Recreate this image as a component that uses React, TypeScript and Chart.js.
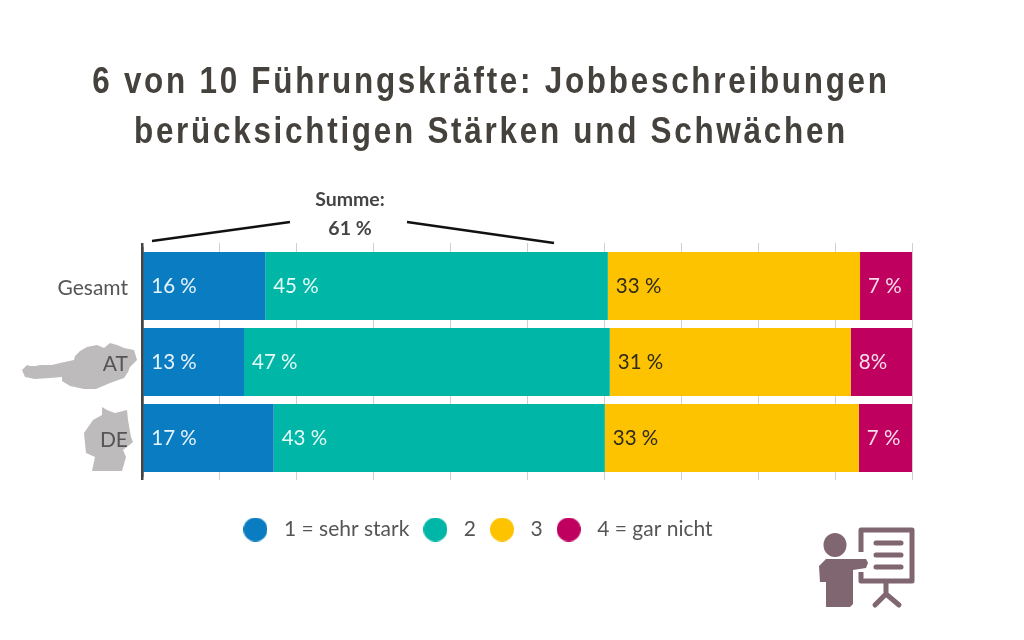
import React, { useEffect, useRef } from "react";
import { Chart, registerables } from "chart.js";

Chart.register(...registerables);

const categories = ["Gesamt", "AT", "DE"];
const seriesNames = ["1 = sehr stark", "2", "3", "4 = gar nicht"];
const seriesColors = ["#0a7cc1", "#00b6a6", "#fdc300", "#c0005f"];
const labelColors = ["#e8f4fb", "#e6faf7", "#2f2a1c", "#f7dce9"];
const values1 = [16, 13.25, 17.1];
const values2 = [44.5, 47.5, 43];
const values3 = [32.75, 31.3, 33];
const values4 = [6.75, 7.95, 6.9];
const labels1 = ["16 %", "13 %", "17 %"];
const labels2 = ["45 %", "47 %", "43 %"];
const labels3 = ["33 %", "31 %", "33 %"];
const labels4 = ["7 %", "8%", "7 %"];
const allValues = [values1, values2, values3, values4];
const allLabels = [labels1, labels2, labels3, labels4];
const titleLines = ["6 von 10 Führungskräfte: Jobbeschreibungen", "berücksichtigen Stärken und Schwächen"];
const sumLines = ["Summe:", "61 %"];

const BODY_FONT = "Lato, 'Open Sans', sans-serif";
const TEXT = "#555555";

const austria = [[22,370],[27,365],[30,366],[36,366],[40,365],[52,365],[60,363],[74,360],[75,356],[80,351],[87,347],[97,345],[104,348],[110,343],[117,345],[124,348],[134,350],[137,360],[130,367],[128,372],[124,378],[110,383],[96,389],[84,389],[70,386],[62,381],[62,377],[50,378],[35,379],[25,377]];
const germany = [[102,407],[107,410],[115,413],[127,410],[128,420],[131,437],[133,442],[123,450],[126,457],[122,471],[92,471],[95,457],[86,453],[84,433],[93,420],[102,415]];

function makeDot(color: string) {
  const c = document.createElement("canvas");
  c.width = 24;
  c.height = 24;
  const g = c.getContext("2d")!;
  g.fillStyle = color;
  g.beginPath();
  g.arc(12, 12, 12, 0, Math.PI * 2);
  g.fill();
  return c;
}

function poly(ctx: CanvasRenderingContext2D, pts: number[][], color: string) {
  ctx.fillStyle = color;
  ctx.lineJoin = "round";
  ctx.beginPath();
  pts.forEach((p, i) => (i ? ctx.lineTo(p[0], p[1]) : ctx.moveTo(p[0], p[1])));
  ctx.closePath();
  ctx.fill();
}

const backdrop = {
  id: "backdrop",
  beforeDraw(chart: any) {
    const ctx = chart.ctx as CanvasRenderingContext2D;
    ctx.save();
    poly(ctx, austria, "#bdbbbc");
    poly(ctx, germany, "#bdbbbc");
    ctx.restore();
  },
};

const shiftLegend = {
  id: "shiftLegend",
  afterLayout(chart: any) {
    chart.legend.left += 19;
    chart.legend.right += 19;
  },
};

const overlay = {
  id: "overlay",
  afterDatasetsDraw(chart: any) {
    const ctx = chart.ctx as CanvasRenderingContext2D;
    ctx.save();
    ctx.textBaseline = "middle";
    ctx.font = `20.5px ${BODY_FONT}`;
    chart.data.datasets.forEach((_: any, di: number) => {
      const meta = chart.getDatasetMeta(di);
      meta.data.forEach((bar: any, i: number) => {
        ctx.fillStyle = labelColors[di];
        ctx.textAlign = "left";
        ctx.fillText(allLabels[di][i], bar.base + 8, bar.y);
      });
    });
    ctx.restore();
  },
  afterDraw(chart: any) {
    const ctx = chart.ctx as any;
    ctx.save();
    // title
    ctx.fillStyle = "#45423d";
    ctx.textAlign = "center";
    ctx.textBaseline = "middle";
    ctx.font = "bold 37px 'Liberation Sans', sans-serif";
    ctx.letterSpacing = "3.2px";
    ctx.save();
    ctx.translate(491, 0);
    ctx.scale(0.85, 1);
    ctx.fillText(titleLines[0], 0, 83);
    ctx.fillText(titleLines[1], 0, 133);
    ctx.restore();
    ctx.letterSpacing = "0px";
    // sum bracket
    ctx.fillStyle = "#444444";
    ctx.font = `bold 19.5px ${BODY_FONT}`;
    ctx.fillText(sumLines[0], 350, 200);
    ctx.fillText(sumLines[1], 350, 229);
    ctx.strokeStyle = "#111111";
    ctx.lineWidth = 2.5;
    ctx.beginPath();
    ctx.moveTo(152, 241);
    ctx.lineTo(290, 222);
    ctx.moveTo(407, 222);
    ctx.lineTo(554, 243);
    ctx.stroke();
    // presenter icon
    const c = "#7f6670";
    ctx.fillStyle = c;
    ctx.strokeStyle = c;
    ctx.beginPath();
    ctx.ellipse(835, 545, 11.5, 12, 0, 0, Math.PI * 2);
    ctx.fill();
    poly(ctx, [[826,559],[866,559],[868,563],[866,568],[853,570],[853,604],[850,607],[826,607],[826,582],[820,582],[819,566]], c);
    ctx.lineWidth = 5;
    ctx.lineCap = "butt";
    ctx.beginPath();
    ctx.moveTo(861, 552);
    ctx.lineTo(861, 530);
    ctx.lineTo(912, 530);
    ctx.lineTo(912, 581);
    ctx.lineTo(861, 581);
    ctx.lineTo(861, 572);
    ctx.stroke();
    ctx.lineCap = "round";
    ctx.beginPath();
    [543, 555, 567].forEach((y) => {
      ctx.moveTo(876, y);
      ctx.lineTo(901, y);
    });
    ctx.moveTo(886, 582);
    ctx.lineTo(886, 594);
    ctx.lineTo(875, 605);
    ctx.moveTo(886, 594);
    ctx.lineTo(899, 605);
    ctx.stroke();
    ctx.restore();
  },
};

export default function App() {
  const ref = useRef<HTMLCanvasElement>(null);
  useEffect(() => {
    const chart = new Chart(ref.current!, {
      type: "bar",
      data: {
        labels: categories,
        datasets: seriesNames.map((name, i) => ({
          label: name,
          data: allValues[i],
          backgroundColor: seriesColors[i],
          barPercentage: 68 / 76,
          categoryPercentage: 1,
          xAxisID: "x",
          yAxisID: "y",
        })),
      },
      options: {
        indexAxis: "y",
        responsive: false,
        animation: false,
        layout: { padding: { top: 243, right: 112, bottom: 90, left: 0 } },
        plugins: {
          title: { display: false },
          tooltip: { enabled: false },
          legend: {
            position: "bottom",
            labels: {
              usePointStyle: true,
              pointStyleWidth: 36,
              padding: 8,
              color: TEXT,
              font: { size: 21, family: BODY_FONT },
              generateLabels: (c: any) =>
                c.data.datasets.map((d: any, i: number) => ({
                  text: d.label,
                  fillStyle: d.backgroundColor,
                  strokeStyle: d.backgroundColor,
                  fontColor: TEXT,
                  pointStyle: makeDot(seriesColors[i]),
                  lineWidth: 0,
                  datasetIndex: i,
                })),
            },
          },
        },
        scales: {
          x: {
            stacked: true,
            min: 0,
            max: 100,
            position: "bottom",
            afterFit: (s: any) => { s.height = 35; },
            ticks: { display: false, stepSize: 10 },
            border: { display: false },
            grid: {
              color: (c: any) => (c.tick && c.tick.value === 0 ? "#444444" : "#cfcfcf"),
              lineWidth: (c: any) => (c.tick && c.tick.value === 0 ? 2.5 : 1),
              tickLength: 4,
            },
          },
          xTop: {
            type: "linear",
            axis: "x",
            min: 0,
            max: 100,
            position: "top",
            afterFit: (s: any) => { s.height = 5; },
            ticks: { display: false, stepSize: 10 },
            border: { display: false },
            grid: {
              drawOnChartArea: false,
              color: (c: any) => (c.tick && c.tick.value === 0 ? "#444444" : "#cfcfcf"),
              lineWidth: (c: any) => (c.tick && c.tick.value === 0 ? 2.5 : 1),
              tickLength: 5,
            },
          },
          y: {
            stacked: true,
            afterFit: (s: any) => { s.width = 142; },
            ticks: { color: TEXT, font: { size: 21, family: BODY_FONT }, padding: 14, labelOffset: 2 },
            border: { display: true, color: "#444444", width: 2.5, z: 1 },
            grid: { display: false, drawTicks: false },
          },
        },
      } as any,
      plugins: [backdrop, shiftLegend, overlay],
    });
    return () => chart.destroy();
  }, []);
  return (
    <div style={{ position: "absolute", left: 0, top: 0, width: 1024, height: 640, background: "#ffffff" }}>
      <canvas ref={ref} width={1024} height={640} style={{ display: "block" }} />
    </div>
  );
}
